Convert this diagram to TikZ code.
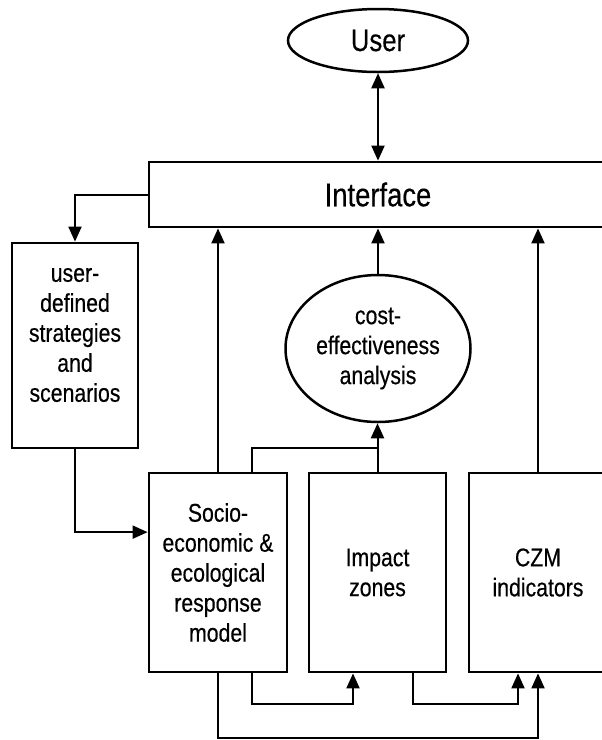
\documentclass[tikz,border=0pt]{standalone}
\usepackage{fontspec}
\setmainfont{Liberation Sans}[FakeStretch=0.83,FakeBold=0.4]
\usetikzlibrary{arrows.meta,shapes.geometric,calc}

\begin{document}
\begin{tikzpicture}[x=1pt,y=-1pt,
  body/.style={font=\fontsize{25.6}{30}\selectfont},
  txt/.style={body,align=center,inner sep=0pt},
  box/.style={txt,draw,line width=2.8pt},
  oval/.style={txt,draw,ellipse,line width=2.5pt},
  link/.style={line width=2pt},
  tip/.tip={Triangle[length=15pt,width=13pt]},
  arr/.style={link,-tip},
]
\useasboundingbox (0,0) rectangle (602,740);
\clip (0,0) rectangle (602,740);

% top: user and interface
\node[oval,minimum width=180pt,minimum height=63pt,
      font=\fontsize{31}{34}\selectfont] (user) at (378,40.5) {User};
\node[box,minimum width=458pt,minimum height=65pt,
      font=\fontsize{33}{36}\selectfont] (interface) at (378,194.5) {Interface};

% left: strategies box
\node[box,minimum width=126pt,minimum height=205pt] (userdef) at (75,345.5) {};
\node[txt] (userdeftext) at ($(userdef.center)+(0,-10.5)$)
  {user-\\defined\\strategies\\and\\scenarios};

% middle: analysis
\node[oval,minimum width=185pt,minimum height=147pt] (cost) at (378,348.5)
  {cost-\\effectiveness\\analysis};

% bottom row of models
\node[box,minimum width=138pt,minimum height=199pt] (socio) at (218,572.5)
  {Socio-\\economic \&\\ecological\\response\\model};
\node[box,minimum width=137pt,minimum height=199pt] (impact) at (377.5,572.5)
  {Impact\\zones};
\node[box,minimum width=138pt,minimum height=199pt] (czm) at (538,572.5)
  {CZM\\indicators};

% connectors
\draw[link,tip-tip] (user.south) -- (user.south |- interface.north);
\draw[arr] (interface.west) -| (userdef.north);
\draw[arr] (userdef.south) |- ($(socio.north west)!0.3!(socio.south west)$);
\draw[arr] (socio.north) -- (socio.north |- interface.south);
\draw[arr] (czm.north) -- (czm.north |- interface.south);
\draw[arr] (cost.north) -- (cost.north |- interface.south);
\draw[arr] (impact.north) -- (impact.north |- cost.south);
\coordinate (join) at (impact.north |- 0,448);
\draw[link] ($(socio.north)+(34,0)$) |- (join);

\draw[arr] ($(socio.south)+(34,0)$) -- ++(0,31) -| ($(impact.south)+(-24.5,0)$);
\draw[arr] ($(impact.south)+(35.5,0)$) -- ++(0,31) -| ($(czm.south)+(-20,0)$);
\draw[arr] (socio.south) -- ++(0,65) -| (czm.south);
\end{tikzpicture}
\end{document}
